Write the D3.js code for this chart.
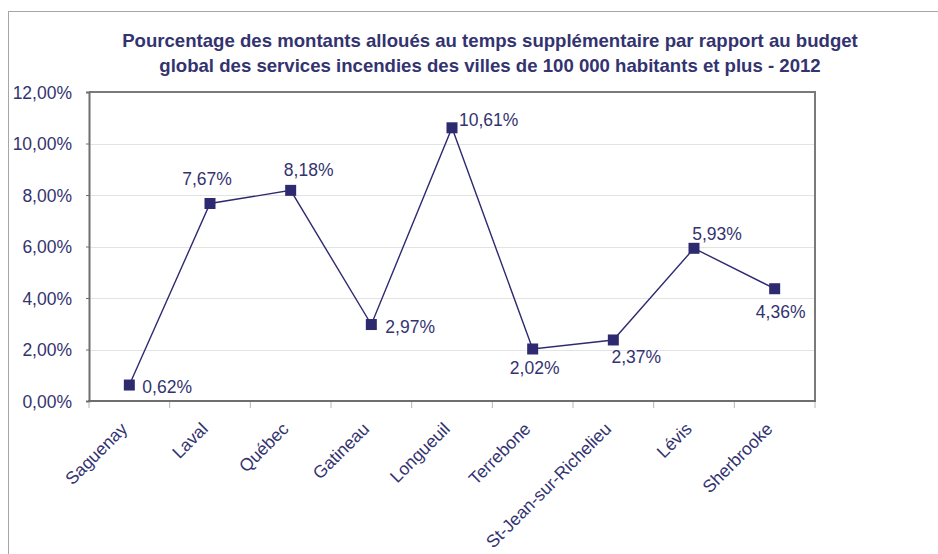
<!DOCTYPE html>
<html>
<head>
<meta charset="utf-8">
<script src="https://cdn.jsdelivr.net/npm/d3@7"></script>
<style>
  body { margin: 0; background: #fff; }
  svg { display: block; font-family: "Liberation Sans", Arial, sans-serif; }
</style>
</head>
<body>
<svg id="chart"></svg>
<script>
// data
const villes = ["Saguenay", "Laval", "Québec", "Gatineau", "Longueuil", "Terrebone", "St-Jean-sur-Richelieu", "Lévis", "Sherbrooke"];
const pourcentages = [0.62, 7.67, 8.18, 2.97, 10.61, 2.02, 2.37, 5.93, 4.36];
const yTicks = [0, 2, 4, 6, 8, 10, 12];
const titre = [
  "Pourcentage des montants alloués au temps supplémentaire par rapport au budget",
  "global des services incendies des villes de 100 000 habitants et plus - 2012"
];
// where each data label sits relative to its marker (dx, dy, anchor)
const labelPos = [
  [13, 8, "start"], [-3, -18, "middle"], [18, -14, "middle"], [14, 8, "start"], [7, -2, "start"],
  [2, 25, "middle"], [23, 23, "middle"], [23, -8, "middle"], [6, 29, "middle"]
];

const W = 938, H = 554;
const navy = "#2E2A70", textCol = "#333370";
const m = { left: 89, top: 92, right: 815, bottom: 401 };

let svg = d3.select("#chart").attr("width", W).attr("height", H);

svg.append("rect").attr("x", 8.5).attr("y", 11.5).attr("width", 960).attr("height", 600)
  .style("fill", "#fff").style("stroke", "#a6a6a6").style("stroke-width", 1);

const fmt = v => v.toFixed(2).replace(".", ",") + "%";

let x = d3.scaleBand().domain(villes).range([m.left, m.right]);
let y = d3.scaleLinear().domain([0, 12]).range([m.bottom, m.top]);

// title
svg.append("g").selectAll("text").data(titre).join("text")
  .attr("x", 490).attr("y", (d, i) => 47 + i * 25)
  .attr("text-anchor", "middle")
  .style("font-size", "18.6px").style("font-weight", "bold").style("fill", textCol)
  .text(d => d);

// gridlines
svg.append("g").selectAll("line").data(yTicks.slice(1, -1)).join("line")
  .attr("x1", m.left).attr("x2", m.right)
  .attr("y1", d => Math.round(y(d)) + 0.5).attr("y2", d => Math.round(y(d)) + 0.5)
  .style("stroke", "#e3e3e3").style("stroke-width", 1);

// plot frame top/right
svg.append("path")
  .attr("d", `M${m.left},${m.top}H${m.right}V${m.bottom}`)
  .style("fill", "none").style("stroke", "#7a7a7a").style("stroke-width", 2);

// y axis
let yAxis = d3.axisLeft(y).tickValues(yTicks).tickSize(3).tickPadding(14).tickFormat(fmt);
let gy = svg.append("g").attr("transform", `translate(${m.left},0)`).call(yAxis);
gy.select(".domain").style("stroke", "#6e6e6e").style("stroke-width", 2);
gy.selectAll(".tick line").style("stroke", "#6e6e6e");
gy.selectAll("text").style("font-size", "17.5px").style("fill", textCol).attr("dy", "0.36em");

// x axis: ticks at category boundaries
let xAxis = d3.axisBottom(x).tickSize(0).tickFormat("");
let gx = svg.append("g").attr("transform", `translate(0,${m.bottom})`).call(xAxis);
gx.select(".domain").remove();
const bounds = villes.map(v => x(v)).concat([m.right]);
svg.append("g").selectAll("line").data(bounds).join("line")
  .attr("x1", d => d).attr("x2", d => d)
  .attr("y1", m.bottom).attr("y2", m.bottom + 7)
  .style("stroke", "#b5b5b5").style("stroke-width", 1);
svg.append("line").attr("x1", m.left - 1).attr("x2", m.right + 1)
  .attr("y1", m.bottom).attr("y2", m.bottom)
  .style("stroke", "#6e6e6e").style("stroke-width", 2);

// category labels
svg.append("g").selectAll("text").data(villes).join("text")
  .attr("transform", d => `translate(${x(d) + x.bandwidth() / 2 - 1},${m.bottom + 29}) rotate(-45)`)
  .attr("text-anchor", "end")
  .style("font-size", "17.5px").style("fill", textCol)
  .text(d => d);

// line + markers
let pts = villes.map((v, i) => ({ v, val: pourcentages[i], pos: labelPos[i] }));
let line = d3.line().x(d => x(d.v) + x.bandwidth() / 2).y(d => y(d.val));
svg.append("path").attr("d", line(pts))
  .style("fill", "none").style("stroke", navy).style("stroke-width", 1.4);

svg.append("g").selectAll("rect").data(pts).join("rect")
  .attr("x", d => x(d.v) + x.bandwidth() / 2 - 5.5)
  .attr("y", d => y(d.val) - 5.5)
  .attr("width", 11).attr("height", 11)
  .style("fill", navy);

svg.append("g").selectAll("text").data(pts).join("text")
  .attr("x", d => x(d.v) + x.bandwidth() / 2 + d.pos[0])
  .attr("y", d => y(d.val) + d.pos[1])
  .attr("text-anchor", d => d.pos[2])
  .style("font-size", "17.5px").style("fill", textCol)
  .text(d => fmt(d.val));
</script>
</body>
</html>
